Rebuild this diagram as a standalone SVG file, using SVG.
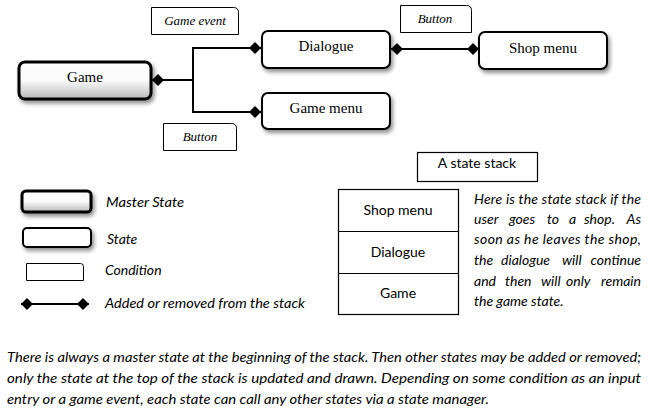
<svg xmlns="http://www.w3.org/2000/svg" width="653" height="408" viewBox="0 0 653 408">
<style>
.bg{fill:#fff}
.master{fill:url(#mg);stroke:#000;stroke-width:3}
.state{fill:#fff;stroke:#000;stroke-width:2}
.cond{fill:#fff;stroke:#000;stroke-width:1}
.box{fill:#fff;stroke:#000;stroke-width:1.2}
.serif{font-family:"Liberation Serif","Times New Roman",serif;font-size:15px;fill:#000}
.cserif{font-family:"Liberation Serif","Times New Roman",serif;font-size:13px;font-style:italic;fill:#000}
.sans{font-family:Lato,"Open Sans","Liberation Sans",sans-serif;font-size:14px;fill:#000}
.it{font-family:Lato,"Open Sans","Liberation Sans",sans-serif;font-size:14px;font-style:italic;fill:#000}
.conn{fill:none;stroke:#000;stroke-width:2}
</style>
<defs>
<linearGradient id="mg" x1="0" y1="0" x2="0" y2="1">
<stop offset="0" stop-color="#ffffff"/>
<stop offset="0.5" stop-color="#fafafa"/>
<stop offset="1" stop-color="#b8b8b8"/>
</linearGradient>
<filter id="sh" x="-20%" y="-30%" width="140%" height="180%">
<feGaussianBlur in="SourceAlpha" stdDeviation="2"/>
<feOffset dx="2" dy="3" result="b"/>
<feComponentTransfer><feFuncA type="linear" slope="0.45"/></feComponentTransfer>
<feMerge><feMergeNode/><feMergeNode in="SourceGraphic"/></feMerge>
</filter>
<marker id="dm" markerUnits="userSpaceOnUse" markerWidth="12" markerHeight="12" refX="12" refY="6" orient="auto-start-reverse" viewBox="0 0 12 12">
<path d="M0 6 L6 0 L12 6 L6 12 Z" fill="#000"/>
</marker>
</defs>
<rect class="bg" x="0" y="0" width="653" height="408"/>

<g id="connectors">
<path class="conn" d="M152 80 H193 V48 H261" marker-start="url(#dm)" marker-end="url(#dm)"/>
<path class="conn" d="M193 80 V112 H261" marker-end="url(#dm)"/>
<path class="conn" d="M391 49 H479" marker-start="url(#dm)" marker-end="url(#dm)"/>
</g>

<g id="game">
<rect class="master" x="19" y="62" width="132" height="37" rx="6" filter="url(#sh)"/>
<text class="serif" x="85" y="82" text-anchor="middle">Game</text>
</g>
<g id="dialogue">
<rect class="state" x="262" y="31" width="128" height="37" rx="6" filter="url(#sh)"/>
<text class="serif" x="326" y="51" text-anchor="middle">Dialogue</text>
</g>
<g id="game-menu">
<rect class="state" x="262" y="93" width="128" height="36" rx="6" filter="url(#sh)"/>
<text class="serif" x="326" y="113" text-anchor="middle">Game menu</text>
</g>
<g id="shop-menu">
<rect class="state" x="479" y="32" width="128" height="37" rx="6" filter="url(#sh)"/>
<text class="serif" x="543" y="53" text-anchor="middle">Shop menu</text>
</g>

<g id="cond-game-event">
<path class="cond" d="M151.5 7.5 H233.5 Q238.5 7.5 238.5 12.5 V34.5 H151.5 Z"/>
<text class="cserif" x="195" y="25" text-anchor="middle">Game event</text>
</g>
<g id="cond-button-bottom">
<path class="cond" d="M163.5 123.5 H231.5 Q236.5 123.5 236.5 128.5 V150.5 H163.5 Z"/>
<text class="cserif" x="200" y="141" text-anchor="middle">Button</text>
</g>
<g id="cond-button-top">
<path class="cond" d="M400.5 5.5 H466.5 Q471.5 5.5 471.5 10.5 V32.5 H400.5 Z"/>
<text class="cserif" x="435" y="23" text-anchor="middle">Button</text>
</g>

<g id="legend">
<rect class="master" x="22" y="191" width="69" height="21" rx="4" filter="url(#sh)"/>
<text class="it" x="106" y="207" textLength="78" lengthAdjust="spacingAndGlyphs">Master State</text>
<rect class="state" x="23" y="228" width="68" height="19" rx="4" filter="url(#sh)"/>
<text class="it" x="107" y="244">State</text>
<path class="cond" d="M26.5 263.5 H80.5 Q83.5 263.5 83.5 266.5 V280.5 H26.5 Z"/>
<text class="it" x="105" y="275">Condition</text>
<path class="conn" d="M21 304 H89" marker-start="url(#dm)" marker-end="url(#dm)"/>
<text class="it" x="105" y="308" textLength="200" lengthAdjust="spacingAndGlyphs">Added or removed from the stack</text>
</g>

<g id="stack-title">
<rect class="box" x="417.5" y="152.5" width="120" height="29"/>
<text class="sans" x="477" y="168" text-anchor="middle">A state stack</text>
</g>
<g id="stack">
<rect class="box" x="338.5" y="189.5" width="120" height="125"/>
<line x1="338.5" y1="231.5" x2="458.5" y2="231.5" stroke="#000" stroke-width="1.2"/>
<line x1="338.5" y1="273.5" x2="458.5" y2="273.5" stroke="#000" stroke-width="1.2"/>
<text class="sans" x="398" y="215" text-anchor="middle">Shop menu</text>
<text class="sans" x="398" y="257" text-anchor="middle">Dialogue</text>
<text class="sans" x="398" y="298" text-anchor="middle">Game</text>
</g>

<g id="stack-note">
<text class="it" x="474" y="204" textLength="167" lengthAdjust="spacing">Here is the state stack if the</text>
<text class="it" y="224"><tspan x="474">user</tspan><tspan x="509">goes</tspan><tspan x="547">to</tspan><tspan x="569">a</tspan><tspan x="584">shop.</tspan></text>
<text class="it" x="641" y="224" text-anchor="end">As</text>
<text class="it" x="474" y="244" textLength="167" lengthAdjust="spacing">soon as he leaves the shop,</text>
<text class="it" y="265"><tspan x="474">the</tspan><tspan x="501">dialogue</tspan><tspan x="562">will</tspan></text>
<text class="it" x="641" y="265" text-anchor="end">continue</text>
<text class="it" y="286"><tspan x="474">and</tspan><tspan x="505">then</tspan><tspan x="541">will</tspan><tspan x="566">only</tspan></text>
<text class="it" x="641" y="286" text-anchor="end">remain</text>
<text class="it" x="474" y="306">the game state.</text>
</g>

<g id="caption">
<text class="it" x="7" y="362" textLength="634" lengthAdjust="spacingAndGlyphs">There is always a master state at the beginning of the stack. Then other states may be added or removed;</text>
<text class="it" x="7" y="383" textLength="634" lengthAdjust="spacingAndGlyphs">only the state at the top of the stack is updated and drawn. Depending on some condition as an input</text>
<text class="it" x="7" y="404" textLength="482" lengthAdjust="spacingAndGlyphs">entry or a game event, each state can call any other states via a state manager.</text>
</g>
</svg>
